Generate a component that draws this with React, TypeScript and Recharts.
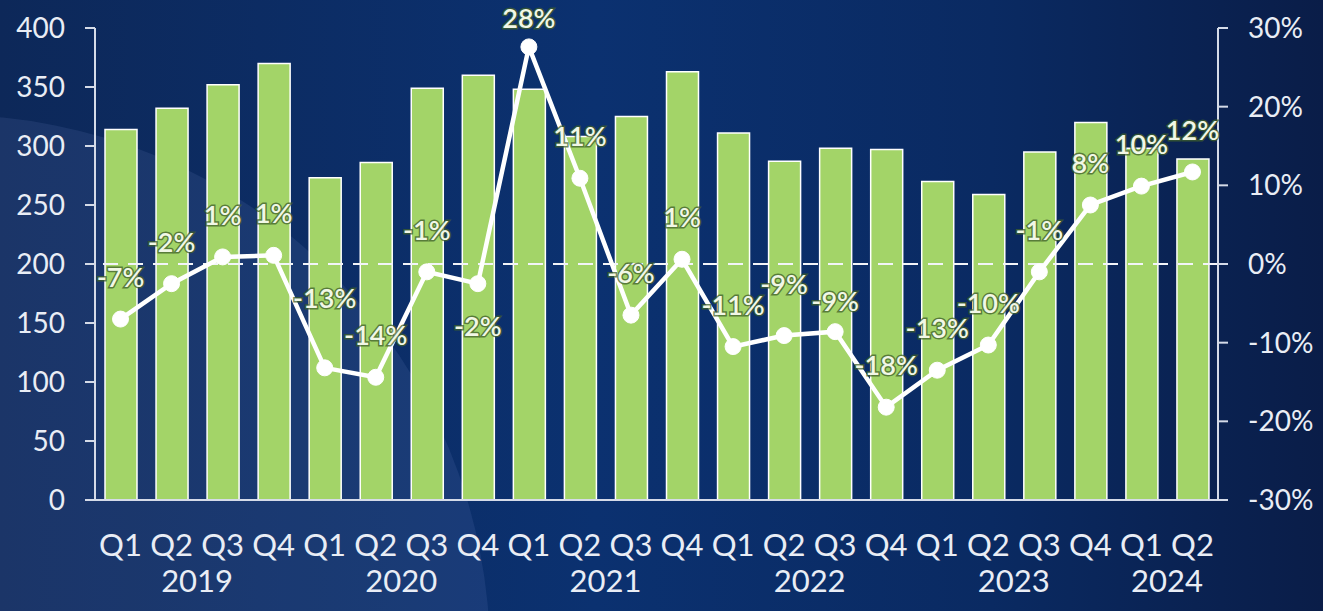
import {
  ComposedChart,
  Bar,
  Line,
  XAxis,
  YAxis,
  ReferenceLine,
  LabelList
} from 'recharts';

const years = ['2019', '2019', '2019', '2019', '2020', '2020', '2020', '2020', '2021', '2021', '2021', '2021', '2022', '2022', '2022', '2022', '2023', '2023', '2023', '2023', '2024', '2024'];
const quarters = ['Q1', 'Q2', 'Q3', 'Q4', 'Q1', 'Q2', 'Q3', 'Q4', 'Q1', 'Q2', 'Q3', 'Q4', 'Q1', 'Q2', 'Q3', 'Q4', 'Q1', 'Q2', 'Q3', 'Q4', 'Q1', 'Q2'];
const volumes = [314, 332, 352, 370, 273, 286, 349, 360, 348, 308, 325, 363, 311, 287, 298, 297, 270, 259, 295, 320, 298, 289];
const growth = [-7, -2.5, 0.9, 1.1, -13.2, -14.4, -1, -2.5, 27.6, 10.9, -6.5, 0.6, -10.5, -9.1, -8.6, -18.2, -13.5, -10.3, -1, 7.5, 9.9, 11.7];
const growthLabels = ['-7%', '-2%', '1%', '1%', '-13%', '-14%', '-1%', '-2%', '28%', '11%', '-6%', '1%', '-11%', '-9%', '-9%', '-18%', '-13%', '-10%', '-1%', '8%', '10%', '12%'];
const leftTicks = [0, 50, 100, 150, 200, 250, 300, 350, 400];
const rightTicks = [-30, -20, -10, 0, 10, 20, 30];

const W = 1323;
const H = 611;
const LEFT = 95;
const RIGHT = 105;
const BAND = (W - LEFT - RIGHT) / quarters.length;
const FONT = 'Lato, "Open Sans", sans-serif';
const TEXT = '#e9edf5';
const AXIS = '#d5dbe8';

const data = quarters.map((q, i) => ({
  key: `${years[i]}-${q}`,
  volume: volumes[i],
  growth: growth[i]
}));

const QuarterTick = (props: any) => {
  const { x, y, payload } = props;
  const [year, q] = String(payload.value).split('-');
  const idx = data.findIndex((d) => d.key === payload.value);
  const first = idx === 0 || years[idx - 1] !== year;
  const n = years.filter((v) => v === year).length;
  return (
    <g>
      <text x={x} y={y + 48} textAnchor="middle" fill={TEXT} fontSize={31} fontFamily={FONT}>
        {q}
      </text>
      {first && (
        <text x={x + ((n - 1) / 2) * BAND} y={y + 84} textAnchor="middle" fill={TEXT} fontSize={31} fontFamily={FONT}>
          {year}
        </text>
      )}
    </g>
  );
};

const PctLabel = (props: any) => {
  const { x, y, index } = props;
  let dy = -42;
  if (index === 4) dy = -70;
  if (index === 7) dy = 42;
  if (index === 13) dy = -52;
  if (index === 14) dy = -31;
  // keep the peak label inside the picture
  const cy = Math.max(y + dy, 18);
  return (
    <text
      x={x}
      y={cy}
      dy={10}
      textAnchor="middle"
      fill="#f1f7e6"
      stroke="#3f5f2a"
      strokeWidth={3}
      strokeOpacity={0.75}
      paintOrder="stroke"
      fontSize={27}
      fontWeight={600}
      fontFamily={FONT}
    >
      {growthLabels[index]}
    </text>
  );
};

export default function App() {
  return (
    <div
      style={{
        position: 'fixed',
        left: 0,
        top: 0,
        width: W,
        height: H,
        overflow: 'hidden',
        background: 'linear-gradient(90deg, #0d2859 0%, #0b3170 45%, #0a2a62 75%, #0a1d48 100%)'
      }}
    >
      <div
        style={{
          position: 'absolute',
          left: -590,
          top: 115,
          width: 1080,
          height: 1080,
          borderRadius: '50%',
          background: 'rgba(120,150,210,0.13)'
        }}
      />
      <div style={{ position: 'absolute', left: 0, top: 0 }}>
        <ComposedChart
          width={W}
          height={H}
          data={data}
          margin={{ top: 28, right: 0, left: 0, bottom: 0 }}
          barCategoryGap={19}
        >
          <XAxis
            dataKey="key"
            height={111}
            interval={0}
            tickLine={false}
            axisLine={{ stroke: AXIS, strokeWidth: 2 }}
            tick={<QuarterTick />}
          />
          <YAxis
            yAxisId="left"
            width={LEFT}
            domain={[0, 400]}
            ticks={leftTicks}
            tickSize={10}
            tickMargin={20}
            axisLine={{ stroke: AXIS, strokeWidth: 2 }}
            tickLine={{ stroke: AXIS, strokeWidth: 2 }}
            tick={{ fill: TEXT, fontSize: 28, fontFamily: FONT }}
          />
          <YAxis
            yAxisId="right"
            orientation="right"
            width={RIGHT}
            domain={[-30, 30]}
            ticks={rightTicks}
            tickFormatter={(v) => `${v}%`}
            tickSize={10}
            tickMargin={20}
            axisLine={{ stroke: AXIS, strokeWidth: 2 }}
            tickLine={{ stroke: AXIS, strokeWidth: 2 }}
            tick={{ fill: TEXT, fontSize: 28, fontFamily: FONT }}
          />
          <Bar
            yAxisId="left"
            dataKey="volume"
            fill="#a3d468"
            stroke="#ffffff"
            strokeWidth={1.5}
            barSize={32}
            isAnimationActive={false}
          />
          <ReferenceLine
            yAxisId="right"
            y={0}
            stroke="#f2f4f8"
            strokeWidth={2}
            strokeDasharray="15 10"
          />
          <Line
            yAxisId="right"
            dataKey="growth"
            type="linear"
            stroke="#ffffff"
            strokeWidth={4.5}
            dot={{ r: 8, fill: '#ffffff', stroke: '#ffffff', strokeWidth: 1 }}
            isAnimationActive={false}
          >
            <LabelList dataKey="growth" content={<PctLabel />} />
          </Line>
        </ComposedChart>
      </div>
    </div>
  );
}
